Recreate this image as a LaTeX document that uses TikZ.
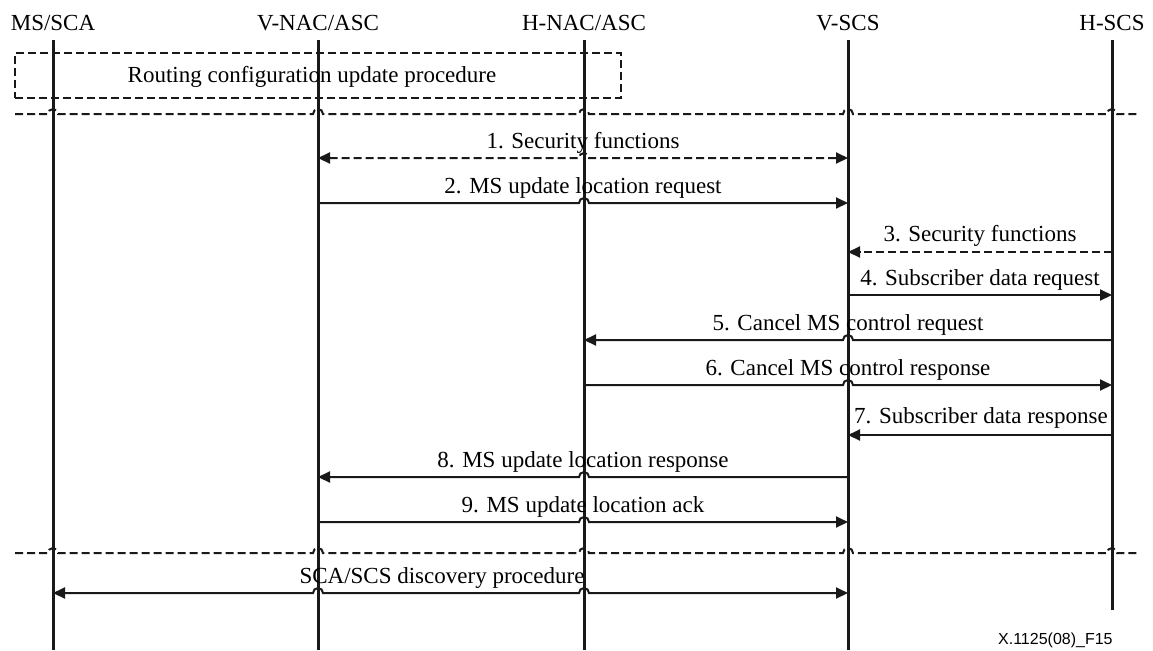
\documentclass[tikz,border=0pt]{standalone}
\usepackage{fontspec}
\setmainfont{Liberation Serif}
\newfontfamily\figfont{Liberation Sans}
\usetikzlibrary{arrows.meta}
\begin{document}
\begin{tikzpicture}[x=0.5pt,y=-0.5pt,
  font=\fontsize{11.5}{13}\selectfont,
  life/.style={line width=1.5pt,draw=black!90},
  tip/.style={Triangle[length=6pt,width=5.5pt]},
  msg/.style={line width=1pt,draw=black!90,-{Triangle[length=6pt,width=5.5pt]}},
  bimsg/.style={line width=1pt,draw=black!90,{Triangle[length=6pt,width=5.5pt]}-{Triangle[length=6pt,width=5.5pt]}},
  dsh/.style={dash pattern=on 4pt off 2pt},
  sep/.style={line width=1pt,draw=black!90,dash pattern=on 4pt off 2pt},
  rbox/.style={draw=black!90,line width=0.8pt,dash pattern=on 4pt off 2pt,minimum width=303pt,minimum height=22.5pt,inner sep=0pt},
  hdr/.style={anchor=base,inner sep=0pt},
  lbl/.style={anchor=base,inner sep=0pt}
]
\useasboundingbox (0,0) rectangle (1153,650);

% headers
\node[hdr] (hA) at (53,30) {MS/SCA};
\node[hdr] (hB) at (318,30) {V-NAC/ASC};
\node[hdr] (hC) at (584,30) {H-NAC/ASC};
\node[hdr] (hD) at (848,30) {V-SCS};
\node[hdr] (hE) at (1112,30) {H-SCS};

% lifelines
\coordinate (tA) at (53,40);   \coordinate (bA) at (53,650);
\coordinate (tB) at (318,40);  \coordinate (bB) at (318,650);
\coordinate (tC) at (584,40);  \coordinate (bC) at (584,650);
\coordinate (tD) at (848,40);  \coordinate (bD) at (848,650);
\coordinate (tE) at (1112,40); \coordinate (bE) at (1112,610);
\foreach \l in {A,B,C,D,E} \draw[life] (t\l) -- (b\l);

% routing box
\node[rbox] (rb) at (318,75.5) {};
\node[lbl] (rt) at (312,82) {Routing configuration update procedure};

% separators
\coordinate (s1a) at (15,114);  \coordinate (s1b) at (1138,114);
\coordinate (s2a) at (15,553);  \coordinate (s2b) at (1138,553);
\foreach \s in {s1,s2}
  \draw[sep] (\s a) -- ([xshift=-2.5pt]tA |- \s a) arc[start angle=180,end angle=0,radius=2.5pt]
     -- ([xshift=-2.5pt]tB |- \s a) arc[start angle=180,end angle=0,radius=2.5pt]
     -- ([xshift=-2.5pt]tC |- \s a) arc[start angle=180,end angle=0,radius=2.5pt]
     -- ([xshift=-2.5pt]tD |- \s a) arc[start angle=180,end angle=0,radius=2.5pt]
     -- ([xshift=-2.5pt]tE |- \s a) arc[start angle=180,end angle=0,radius=2.5pt]
     -- (\s b);

% message end points
\coordinate (m1a) at (318,158); \coordinate (m1b) at (848,158);
\coordinate (m2a) at (318,203); \coordinate (m2b) at (848,203);
\coordinate (m3a) at (1112,252); \coordinate (m3b) at (848,252);
\coordinate (m4a) at (848,295); \coordinate (m4b) at (1112,295);
\coordinate (m5a) at (1112,340); \coordinate (m5b) at (584,340);
\coordinate (m6a) at (584,385); \coordinate (m6b) at (1112,385);
\coordinate (m7a) at (1112,435); \coordinate (m7b) at (848,435);
\coordinate (m8a) at (848,477); \coordinate (m8b) at (318,477);
\coordinate (m9a) at (318,522); \coordinate (m9b) at (848,522);
\coordinate (m10a) at (53,593); \coordinate (m10b) at (848,593);

% messages
\draw[bimsg,dsh] (m1a) -- ([xshift=-2.5pt]tC |- m1a) arc[start angle=180,end angle=0,radius=2.5pt] -- (m1b);
\draw[msg] (m2a) -- ([xshift=-2.5pt]tC |- m2a) arc[start angle=180,end angle=0,radius=2.5pt] -- (m2b);
\draw[msg,dsh] (m3a) -- (m3b);
\draw[msg] (m4a) -- (m4b);
\draw[msg] (m5a) -- ([xshift=2.5pt]tD |- m5a) arc[start angle=0,end angle=180,radius=2.5pt] -- (m5b);
\draw[msg] (m6a) -- ([xshift=-2.5pt]tD |- m6a) arc[start angle=180,end angle=0,radius=2.5pt] -- (m6b);
\draw[msg] (m7a) -- (m7b);
\draw[msg] (m8a) -- ([xshift=2.5pt]tC |- m8a) arc[start angle=0,end angle=180,radius=2.5pt] -- (m8b);
\draw[msg] (m9a) -- ([xshift=-2.5pt]tC |- m9a) arc[start angle=180,end angle=0,radius=2.5pt] -- (m9b);
\draw[bimsg] (m10a) -- ([xshift=-2.5pt]tB |- m10a) arc[start angle=180,end angle=0,radius=2.5pt]
   -- ([xshift=-2.5pt]tC |- m10a) arc[start angle=180,end angle=0,radius=2.5pt] -- (m10b);

% labels
\node[lbl] (l1) at (583,148) {1. Security functions};
\node[lbl] (l2) at (583,193) {2. MS update location request};
\node[lbl] (l3) at (980,241) {3. Security functions};
\node[lbl] (l4) at (980,285) {4. Subscriber data request};
\node[lbl] (l5) at (848,330) {5. Cancel MS control request};
\node[lbl] (l6) at (848,375) {6. Cancel MS control response};
\node[lbl] (l7) at (981,423) {7. Subscriber data response};
\node[lbl] (l8) at (583,467) {8. MS update location response};
\node[lbl] (l9) at (583,512) {9. MS update location ack};
\node[lbl] (l10) at (442,583) {SCA/SCS discovery procedure};

\node[anchor=east,inner sep=0pt,font=\figfont\fontsize{8}{9}\selectfont] (fid) at (1113,640) {X.1125(08)\_F15};
\end{tikzpicture}
\end{document}
